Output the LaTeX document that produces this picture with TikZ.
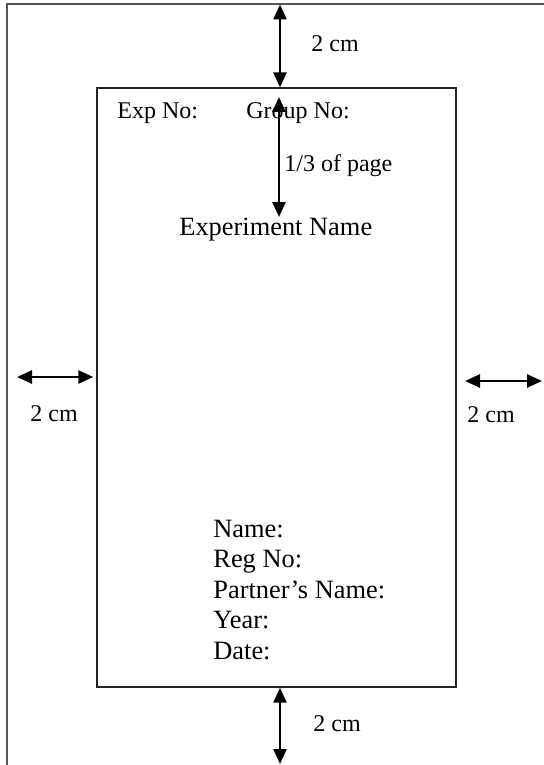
\documentclass[tikz,border=0pt]{standalone}
\usepackage{fontspec}
\setmainfont{Liberation Serif}
\usepackage{xcolor}
\definecolor{edgeGray}{HTML}{555555}
\definecolor{boxDark}{HTML}{222222}
\usepackage{tikz}
\usetikzlibrary{positioning,calc,arrows.meta}
\tikzset{%
  pageEdge/.style={%
    draw=edgeGray,
    line width=1pt
  },
  sheetBox/.style={%
    rectangle,
    draw=boxDark,
    line width=0.7pt,
    inner sep=0pt,
    minimum width=179.5pt,
    minimum height=299.5pt
  },
  dimArrow/.style={%
    >={Triangle[length=7.5pt,width=6.5pt]},
    <->,
    line width=1.3pt,
    color=black
  },
  labelText/.style={%
    anchor=base west,
    inner sep=0pt,
    font=\fontsize{12}{14}\selectfont
  },
  bigText/.style={%
    anchor=base west,
    inner sep=0pt,
    font=\fontsize{13.2}{15}\selectfont
  }
}

\begin{document}
\begin{tikzpicture}[x=0.5pt,y=-0.5pt]
            \useasboundingbox (0,0) rectangle (544,765);

            % page edges (top and left only)
            \draw[pageEdge] (544,4.5) -- (6.5,4.5) -- (6.5,765);

            \node[sheetBox] (sheet) at (276.5,387.5) {};

            % arrow ends
            \coordinate (topEdge) at (280,4.5);
            \coordinate (leftEdge) at (17,377);
            \coordinate (rightIn) at (465,381);
            \coordinate (rightOut) at (542,381);
            \coordinate (bottomEdge) at (280,764);
            \coordinate (thirdTop) at (279,97);
            \coordinate (thirdBottom) at (279,217);

            \draw[dimArrow] (topEdge) -- (sheet.north -| topEdge);
            \draw[dimArrow, shorten >=1.5pt] (leftEdge) -- (sheet.west |- leftEdge);
            \draw[dimArrow] (rightIn) -- (rightOut);
            \draw[dimArrow] (sheet.south -| bottomEdge) -- (bottomEdge);
            \draw[dimArrow] (thirdTop) -- (thirdBottom);

            % labels
            \node[labelText] (topDim) at (311,52) {2 cm};
            \node[labelText] (leftDim) at (30,421) {2 cm};
            \node[labelText] (rightDim) at (467,422) {2 cm};
            \node[labelText] (bottomDim) at (313,731) {2 cm};
            \node[labelText] (expNo) at (117,119) {Exp No:};
            \node[labelText] (groupNo) at (246,119) {Group No:};
            \node[labelText] (third) at (284,171) {1/3 of page};
            \node[bigText] (expName) at (179,235) {Experiment Name};

            \foreach \txt [count=\i from 0] in {Name:, Reg No:, Partner’s Name:, Year:, Date:}
              \node[bigText] (info\i) at (213,537+30.5*\i) {\txt};
        \end{tikzpicture}
\end{document}
